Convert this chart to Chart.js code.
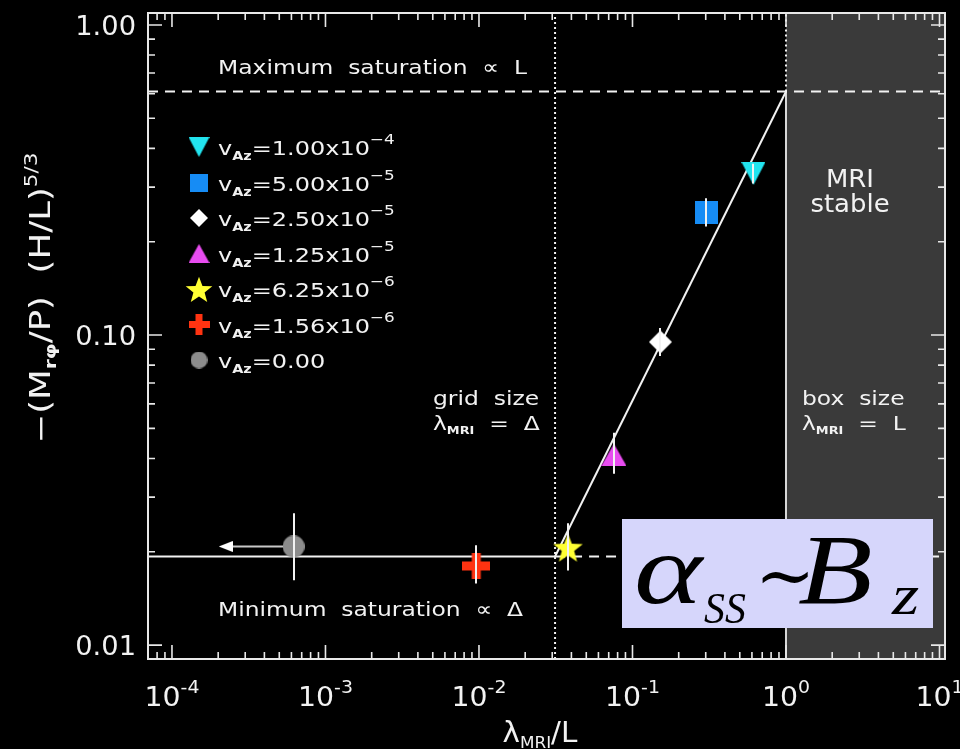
<!DOCTYPE html>
<html><head><meta charset="utf-8">
<script src="https://cdn.jsdelivr.net/npm/chart.js@4"></script>
<style>html,body{margin:0;padding:0;background:#000;overflow:hidden}canvas{display:block}</style>
</head><body>
<canvas id="c" width="960" height="749"></canvas>
<script>
// ---------------- data ----------------
const seriesMantissa = ['1.00', '5.00', '2.50', '1.25', '6.25', '1.56', '0.00'];
const seriesExponent = ['-4', '-5', '-5', '-5', '-6', '-6', ''];
const lambdaOverL = [0.614, 0.303, 0.152, 0.0757, 0.038, 0.0096, 0.00062];
const stress = [0.332, 0.249, 0.095, 0.0411, 0.0207, 0.018, 0.0208];
const stressLow = [0.308, 0.224, 0.0856, 0.0357, 0.0174, 0.0158, 0.0162];
const stressHigh = [0.357, 0.276, 0.1053, 0.0484, 0.0247, 0.021, 0.0266];
const arrowEnd = 0.000224;
const minSaturation = 0.0193;
const maxSaturation = 0.61;
const gridLambda = 0.0313;
const boxLambda = 1.0;
const xTickExponents = [-4, -3, -2, -1, 0, 1];
const yTickValues = [0.01, 0.1, 1];
const yTickLabels = ['0.01', '0.10', '1.00'];
const X_MIN = 6.98e-5, X_MAX = 10.86, Y_MIN = 0.00902, Y_MAX = 1.093;

// ---------------- styles ----------------
const markerColors = ['#22e4ef', '#168cf5', '#ffffff', '#e84cf0', '#ffff33', '#ff3311', '#8c8c8c'];
const FONT = '"DejaVu Sans", "Liberation Sans", sans-serif';
const WHITE = '#f2f2f2';

function makeImg(w, h, draw) {
  const c = document.createElement('canvas'); c.width = w; c.height = h;
  const g = c.getContext('2d'); draw(g, w, h); return c;
}
function triDown(col, w, h) { return makeImg(w, h, (g) => { g.fillStyle = col; g.beginPath(); g.moveTo(0, 0); g.lineTo(w, 0); g.lineTo(w / 2, h); g.closePath(); g.fill(); }); }
function triUp(col, w, h) { return makeImg(w, h, (g) => { g.fillStyle = col; g.beginPath(); g.moveTo(w / 2, 0); g.lineTo(w, h); g.lineTo(0, h); g.closePath(); g.fill(); }); }
function star(col, s) { return makeImg(s, s, (g) => { g.fillStyle = col; g.beginPath(); const cx = s / 2, cy = s / 2 + s * 0.06, R = s / 2, r = R * 0.42; for (let k = 0; k < 10; k++) { const a = -Math.PI / 2 + k * Math.PI / 5; const rr = k % 2 ? r : R; g.lineTo(cx + rr * Math.cos(a), cy + rr * Math.sin(a)); } g.closePath(); g.fill(); }); }
function cross(col, w, h, t) { return makeImg(w, h, (g) => { g.fillStyle = col; g.fillRect(0, (h - t) / 2, w, t); g.fillRect((w - t) / 2, 0, t, h); }); }
function rectImg(col, w, h) { return makeImg(w, h, (g) => { g.fillStyle = col; g.fillRect(0, 0, w, h); }); }
function diamond(col, s) { return makeImg(s, s, (g) => { g.fillStyle = col; g.beginPath(); g.moveTo(s / 2, 0); g.lineTo(s, s / 2); g.lineTo(s / 2, s); g.lineTo(0, s / 2); g.closePath(); g.fill(); }); }
function circle(col, s) { return makeImg(s, s, (g) => { g.fillStyle = col; g.beginPath(); g.arc(s / 2, s / 2, s / 2, 0, Math.PI * 2); g.fill(); }); }
function arrowHead(col, w, h) { return makeImg(w, h, (g) => { g.fillStyle = col; g.beginPath(); g.moveTo(0, h / 2); g.lineTo(w, 0); g.lineTo(w, h); g.closePath(); g.fill(); }); }

const markerImgs = [
  triDown(markerColors[0], 24, 23),
  rectImg(markerColors[1], 23, 23),
  diamond(markerColors[2], 23),
  triUp(markerColors[3], 25, 22),
  star(markerColors[4], 31),
  cross(markerColors[5], 28, 26, 9),
  circle(markerColors[6], 22)
];
const legendImgs = [
  triDown(markerColors[0], 21, 20),
  rectImg(markerColors[1], 18, 18),
  diamond(markerColors[2], 18),
  triUp(markerColors[3], 21, 19),
  star(markerColors[4], 28),
  cross(markerColors[5], 21, 21, 7),
  circle(markerColors[6], 17)
];

const pointDatasets = lambdaOverL.map((x, i) => ({
  label: 'vAz=' + seriesMantissa[i] + (seriesExponent[i] ? 'x10^' + seriesExponent[i] : ''),
  data: [{ x: x, y: stress[i] }],
  pointStyle: markerImgs[i], pointRadius: 12, showLine: false, order: 0,
  backgroundColor: markerColors[i], borderColor: markerColors[i]
}));

function lineDs(pts, opts) {
  return Object.assign({ data: pts, showLine: true, pointRadius: 0, borderColor: WHITE, borderWidth: 2, order: 5, fill: false }, opts || {});
}
const lineDatasets = [
  lineDs([{ x: X_MIN, y: minSaturation }, { x: gridLambda, y: minSaturation }]),
  lineDs([{ x: gridLambda, y: minSaturation }, { x: X_MAX, y: minSaturation }], { borderDash: [10, 7] }),
  lineDs([{ x: X_MIN, y: maxSaturation }, { x: X_MAX, y: maxSaturation }], { borderDash: [10, 7] }),
  lineDs([{ x: gridLambda, y: minSaturation }, { x: boxLambda, y: maxSaturation }]),
  lineDs([{ x: gridLambda, y: Y_MIN }, { x: gridLambda, y: Y_MAX }], { borderDash: [2, 3] }),
  lineDs([{ x: boxLambda, y: maxSaturation }, { x: boxLambda, y: Y_MAX }], { borderDash: [2, 3] }),
  lineDs([{ x: boxLambda, y: Y_MIN }, { x: boxLambda, y: maxSaturation }], { borderColor: '#d8d8d8' }),
  // arrow for the vAz = 0 run
  lineDs([{ x: lambdaOverL[6], y: stress[6] }, { x: arrowEnd, y: stress[6] }], {
    borderColor: '#c8c8c8', pointRadius: [0, 8], pointStyle: arrowHead('#ffffff', 14, 11), order: 1
  })
];

// ---------------- rich text helper ----------------
function fontStr(p) { return (p.style || '') + ' ' + (p.weight || '') + ' ' + p.size + 'px ' + (p.family || FONT); }
function drawRich(ctx, x, y, parts, align, hscale) {
  hscale = hscale || 1;
  let total = 0;
  parts.forEach(p => { ctx.font = fontStr(p); p.w = ctx.measureText(p.t).width; total += p.w; });
  ctx.save();
  ctx.translate(x, y);
  ctx.scale(hscale, 1);
  let cx = align === 'center' ? -total / 2 : (align === 'right' ? -total : 0);
  ctx.textAlign = 'left'; ctx.textBaseline = 'alphabetic';
  parts.forEach(p => { ctx.font = fontStr(p); ctx.fillStyle = p.color || WHITE; ctx.fillText(p.t, cx, p.dy || 0); cx += p.w; });
  ctx.restore();
  return total * hscale;
}

// ---------------- plugin ----------------
const decor = {
  id: 'decor',
  beforeDatasetsDraw(chart) {
    const { ctx, chartArea: a, scales: { x } } = chart;
    ctx.save();
    const xb = x.getPixelForValue(boxLambda);
    ctx.fillStyle = '#3a3a3a';
    ctx.fillRect(xb, a.top, a.right - xb, a.bottom - a.top);
    ctx.restore();
  },
  afterDatasetsDraw(chart) {
    const { ctx, chartArea: a, scales: { x, y } } = chart;
    ctx.save();
    // error bars
    ctx.strokeStyle = WHITE; ctx.lineWidth = 2;
    lambdaOverL.forEach((lx, i) => {
      const px = Math.round(x.getPixelForValue(lx));
      ctx.beginPath(); ctx.moveTo(px, y.getPixelForValue(stressLow[i])); ctx.lineTo(px, y.getPixelForValue(stressHigh[i])); ctx.stroke();
    });
    // axis box
    ctx.strokeStyle = '#e8e8e8'; ctx.lineWidth = 2;
    ctx.strokeRect(a.left, a.top, a.right - a.left, a.bottom - a.top);
    // x ticks
    ctx.lineWidth = 1.6;
    for (let e = -5; e <= 1; e++) {
      for (let m = 1; m <= 9; m++) {
        const v = m * Math.pow(10, e);
        if (v < X_MIN * 0.999 || v > X_MAX) continue;
        const px = x.getPixelForValue(v);
        const len = m === 1 ? 14 : 7;
        ctx.beginPath(); ctx.moveTo(px, a.bottom); ctx.lineTo(px, a.bottom - len);
        ctx.moveTo(px, a.top); ctx.lineTo(px, a.top + len); ctx.stroke();
      }
    }
    // y ticks
    for (let e = -3; e <= 0; e++) {
      for (let m = 1; m <= 9; m++) {
        const v = m * Math.pow(10, e);
        if (v < Y_MIN || v > Y_MAX) continue;
        const py = y.getPixelForValue(v);
        const len = m === 1 ? 14 : 7;
        ctx.beginPath(); ctx.moveTo(a.left, py); ctx.lineTo(a.left + len, py);
        ctx.moveTo(a.right, py); ctx.lineTo(a.right - len, py); ctx.stroke();
      }
    }
    // y tick labels
    yTickValues.forEach((v, i) => {
      drawRich(ctx, 136, y.getPixelForValue(v) + 10, [{ t: yTickLabels[i], size: 26 }], 'right', 1.05);
    });
    // x tick labels
    xTickExponents.forEach(e => {
      drawRich(ctx, x.getPixelForValue(Math.pow(10, e)), 706, [{ t: '10', size: 27 }, { t: String(e), size: 18, dy: -13 }], 'center', 1.05);
    });
    // axis titles
    drawRich(ctx, 540, 742, [{ t: 'λ', size: 28 }, { t: 'MRI', size: 16, dy: 6 }, { t: '/L', size: 28 }], 'center', 1.05);
    ctx.save();
    ctx.translate(50, 298); ctx.rotate(-Math.PI / 2);
    drawRich(ctx, 0, 0, [{ t: '−(M', size: 28 }, { t: 'rφ', size: 16, dy: 6, weight: 'bold' }, { t: '/P)  (H/L)', size: 28 }, { t: '5/3', size: 17, dy: -13 }], 'center', 1.27);
    ctx.restore();
    // annotations
    const hs = 1.17;
    drawRich(ctx, 218, 74, [{ t: 'Maximum  saturation  ∝  L', size: 20 }], 'left', hs);
    drawRich(ctx, 218, 616, [{ t: 'Minimum  saturation  ∝  Δ', size: 20 }], 'left', hs);
    drawRich(ctx, 433, 405, [{ t: 'grid  size', size: 20 }], 'left', hs);
    drawRich(ctx, 433, 430, [{ t: 'λ', size: 20 }, { t: 'MRI', size: 11, dy: 4, weight: 'bold' }, { t: '  =  Δ', size: 20 }], 'left', hs);
    drawRich(ctx, 802, 405, [{ t: 'box  size', size: 20 }], 'left', hs);
    drawRich(ctx, 802, 430, [{ t: 'λ', size: 20 }, { t: 'MRI', size: 11, dy: 4, weight: 'bold' }, { t: '  =  L', size: 20 }], 'left', hs);
    drawRich(ctx, 850, 187, [{ t: 'MRI', size: 24 }], 'center', 1.08);
    drawRich(ctx, 850, 212, [{ t: 'stable', size: 24 }], 'center', 1.08);
    // legend
    seriesMantissa.forEach((mant, i) => {
      const base = 155 + 35.5 * i;
      const img = legendImgs[i];
      ctx.drawImage(img, 199 - img.width / 2, base - 8 - img.height / 2);
      const parts = [{ t: 'v', size: 20 }, { t: 'Az', size: 12, dy: 5, weight: 'bold' }, { t: '=' + mant, size: 20 }];
      if (seriesExponent[i]) { parts.push({ t: 'x10', size: 20 }); parts.push({ t: '−' + seriesExponent[i].slice(1), size: 14, dy: -11 }); }
      drawRich(ctx, 218, base, parts, 'left', 1.2);
    });
    ctx.restore();
  },
  afterDraw(chart) {
    const ctx = chart.ctx;
    ctx.save();
    ctx.fillStyle = '#d6d6fb';
    ctx.fillRect(622, 519, 311, 109);
    const serif = '"Liberation Serif", "DejaVu Serif", serif';
    const blk = '#000';
    drawRich(ctx, 634, 603, [{ t: 'α', size: 100, style: 'italic', family: serif, color: blk }], 'left', 1.3);
    drawRich(ctx, 704, 623, [{ t: 'SS', size: 44, style: 'italic', family: serif, color: blk }], 'left', 0.95);
    drawRich(ctx, 755, 600, [{ t: '∼', size: 72, family: serif, color: blk }], 'left', 1.0);
    drawRich(ctx, 798, 603, [{ t: 'B', size: 100, style: 'italic', family: serif, color: blk }], 'left', 1.22);
    drawRich(ctx, 892, 614, [{ t: 'z', size: 56, style: 'italic', family: serif, color: blk }], 'left', 1.25);
    ctx.restore();
  }
};

new Chart(document.getElementById('c'), {
  type: 'scatter',
  data: { datasets: pointDatasets.concat(lineDatasets) },
  options: {
    responsive: false, animation: false, devicePixelRatio: 1,
    layout: { padding: { left: 148, right: 15, top: 11, bottom: 90 } },
    plugins: { legend: { display: false }, tooltip: { enabled: false } },
    scales: {
      x: { type: 'logarithmic', min: X_MIN, max: X_MAX, display: false },
      y: { type: 'logarithmic', min: Y_MIN, max: Y_MAX, display: false }
    }
  },
  plugins: [{ id: 'bg', beforeDraw(c) { c.ctx.save(); c.ctx.fillStyle = '#000'; c.ctx.fillRect(0, 0, c.width, c.height); c.ctx.restore(); } }, decor]
});
</script>
</body></html>
